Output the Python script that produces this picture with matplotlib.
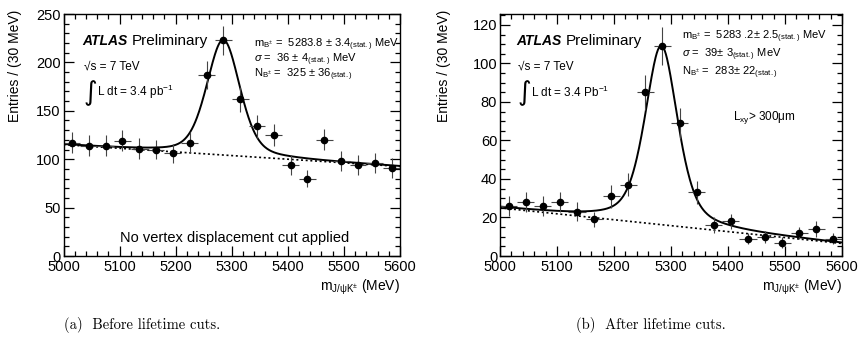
import numpy as np
import matplotlib.pyplot as plt
from matplotlib.ticker import MultipleLocator

plt.rcParams['font.family'] = ['Liberation Sans', 'DejaVu Sans']
plt.rcParams['mathtext.fontset'] = 'custom'
plt.rcParams['mathtext.rm'] = 'Liberation Sans'
plt.rcParams['mathtext.it'] = 'Liberation Sans:italic'
plt.rcParams['mathtext.bf'] = 'Liberation Sans:bold'

# 30 MeV bins
bin_centers = [5015, 5045, 5075, 5105, 5135, 5165, 5195, 5225, 5255, 5285,
               5315, 5345, 5375, 5405, 5435, 5465, 5495, 5525, 5555, 5585]
bin_half = 15

# (a) before lifetime cuts
counts_a = [117, 114, 114, 119, 111, 110, 106, 117, 187, 223,
            162, 134, 125, 94, 80, 120, 98, 94, 96, 91]
errors_a = [11, 11, 11, 11, 11, 10, 10, 11, 14, 15,
            13, 12, 11, 10, 9, 11, 10, 10, 10, 10]

# (b) after lifetime cuts
counts_b = [26, 28, 26, 28, 23, 19, 31, 37, 85, 109,
            69, 33, 16, 18, 9, 10, 7, 12, 14, 9]
errors_b = [5, 5, 5, 5, 5, 4, 6, 6, 9, 10,
            8, 6, 4, 4, 3, 3, 3, 3, 4, 3]

# fit shapes: peak (gauss/lorentz mix) on a straight background
fit_a = dict(mean=5285, hwhm=35, height=119, lfrac=0.35, bkg_lo=115, bkg_hi=92.5)
fit_b = dict(mean=5283, hwhm=34, height=93, lfrac=0.5, bkg_lo=25, bkg_hi=6.5)

text_a = [r'm$_{\mathrm{B^{\pm}}}$ =  5283.8 $\pm$ 3.4$_{\mathrm{(stat.)}}$ MeV',
          r'$\sigma$ =  36 $\pm$ 4$_{\mathrm{(stat.)}}$ MeV',
          r'N$_{\mathrm{B^{\pm}}}$ =  325 $\pm$ 36$_{\mathrm{(stat.)}}$']
text_b = [r'm$_{\mathrm{B^{\pm}}}$ =  5283 .2$\pm$ 2.5$_{\mathrm{(stat.)}}$ MeV',
          r'$\sigma$ =  39$\pm$ 3$_{\mathrm{(stat.)}}$ MeV',
          r'N$_{\mathrm{B^{\pm}}}$ =  283$\pm$ 22$_{\mathrm{(stat.)}}$']

W, H = 858, 338
fig = plt.figure(figsize=(W / 100, H / 100), dpi=100)


def px(x, y):
    return x / W, 1 - y / H


def fit_curves(p):
    x = np.linspace(5000, 5600, 601)
    bkg = p['bkg_lo'] + (p['bkg_hi'] - p['bkg_lo']) * (x - 5000) / 600
    u = (x - p['mean']) / p['hwhm']
    shape = p['lfrac'] / (1 + u ** 2) + (1 - p['lfrac']) * np.exp(-np.log(2) * u ** 2)
    return x, bkg, bkg + p['height'] * shape


def draw_panel(ax, counts, errors, fit, ymax, ymaj, ymin):
    x, bkg, total = fit_curves(fit)
    ax.plot(x, bkg, color='black', lw=1.2, ls=(0, (1.2, 1.6)))
    ax.plot(x, total, color='black', lw=1.4)
    ax.errorbar(bin_centers, counts, yerr=errors, xerr=bin_half, fmt='o',
                color='black', ms=4.5, elinewidth=0.8, capsize=0,
                ecolor='#444444')
    ax.set_xlim(5000, 5600)
    ax.set_ylim(0, ymax)
    ax.xaxis.set_major_locator(MultipleLocator(100))
    ax.xaxis.set_minor_locator(MultipleLocator(20))
    ax.yaxis.set_major_locator(MultipleLocator(ymaj))
    ax.yaxis.set_minor_locator(MultipleLocator(ymin))
    ax.tick_params(which='both', direction='in', top=True, right=True,
                   labelsize=10.5, width=0.9)
    ax.tick_params(which='major', length=7)
    ax.tick_params(which='minor', length=3.5)
    ax.tick_params(axis='x', pad=3)
    ax.tick_params(axis='y', pad=2)
    for s in ax.spines.values():
        s.set_linewidth(1.0)


ax1 = fig.add_axes([63.5 / W, 82 / H, 336.5 / W, 242 / H])
draw_panel(ax1, counts_a, errors_a, fit_a, 250, 50, 10)
ax2 = fig.add_axes([500 / W, 82 / H, 342 / W, 242 / H])
draw_panel(ax2, counts_b, errors_b, fit_b, 125.7, 20, 5)

# annotations, placed in figure pixels
for dx, box, ybox, x0, lumi in [(0, text_a, [45, 60, 75], 254, 'pb'),
                               (434, text_b, [37, 55, 73], 682, 'Pb')]:
    fig.text(*px(82 + dx, 41), 'ATLAS', fontsize=10, fontweight='bold',
             fontstyle='italic', va='center')
    fig.text(*px(132 + dx, 41), 'Preliminary', fontsize=11, va='center')
    fig.text(*px(84 + dx, 67), '\u221as = 7 TeV', fontsize=8.5, va='center')
    fig.text(*px(84 + dx, 93), '\u222b', fontsize=19, va='center',
             family=['DejaVu Sans'])
    fig.text(*px(97 + dx, 92), r'L dt = 3.4 %s$^{\mathrm{-1}}$' % lumi,
             fontsize=8.5, va='center')
    for t, yy in zip(box, ybox):
        fig.text(*px(x0, yy), t, fontsize=8, va='center')

fig.text(*px(235, 238), 'No vertex displacement cut applied', fontsize=10.5,
         ha='center', va='center')
fig.text(*px(733, 118), r'L$_{\mathrm{xy}}$> 300$\mathrm{\mu}$m', fontsize=8.5,
         va='center')

for xr, xl in [(400, 15), (842, 444)]:
    fig.text(*px(xr, 287), r'm$_{\mathrm{J/\psi K^{\pm}}}$ (MeV)', fontsize=10,
             ha='right', va='center')
    fig.text(*px(xl, 10), 'Entries / (30 MeV)', fontsize=10, rotation=90,
             ha='center', va='top')

fig.text(*px(142, 325), '(a)  Before lifetime cuts.', fontsize=10.5,
         family=['cmr10'], ha='center', va='center')
fig.text(*px(651, 325), '(b)  After lifetime cuts.', fontsize=10.5,
         family=['cmr10'], ha='center', va='center')

fig.savefig('out.png', dpi=100)
